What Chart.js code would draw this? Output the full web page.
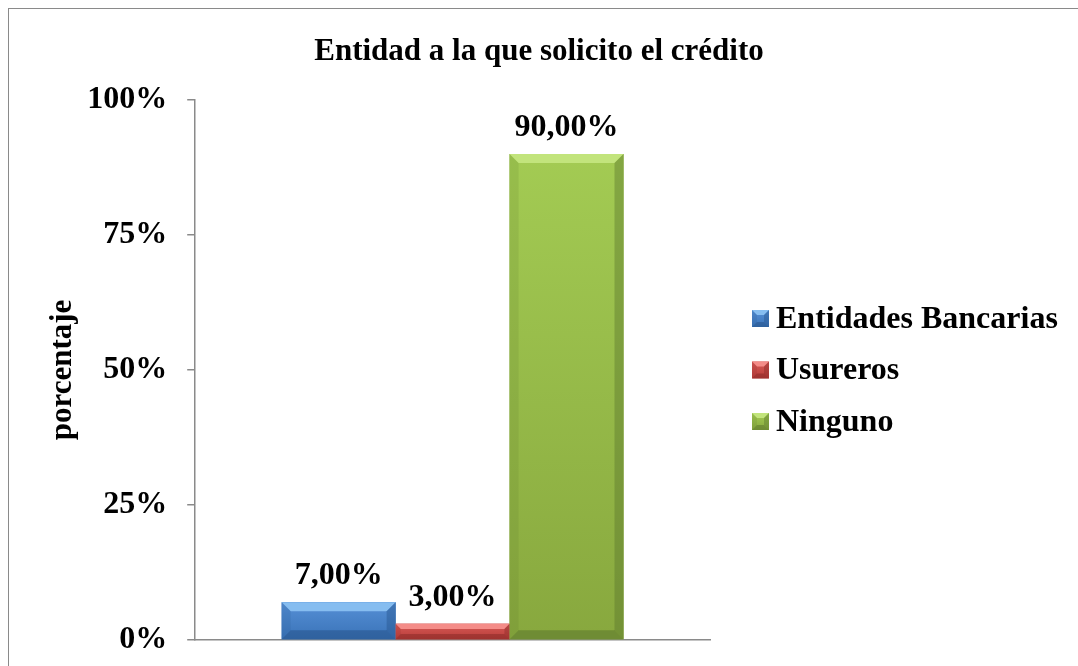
<!DOCTYPE html>
<html>
<head>
<meta charset="utf-8">
<script src="https://cdn.jsdelivr.net/npm/chart.js@4"></script>
<style>
  html, body { margin: 0; padding: 0; background: #fff; }
  #wrap { position: relative; width: 1078px; height: 666px; overflow: hidden; }
  #frame { position: absolute; left: 8px; top: 8px; width: 1200px; height: 800px; border: 1px solid #8a8a8a; }
  canvas { position: absolute; left: 0; top: 0; }
</style>
</head>
<body>
<div id="wrap">
  <div id="frame"></div>
  <canvas id="chart" width="1078" height="666"></canvas>
</div>
<script>
// data
const chartTitle = 'Entidad a la que solicito el crédito';
const categories = [''];
const seriesNames = ['Entidades Bancarias', 'Usureros', 'Ninguno'];
const seriesValues = [[7], [3], [90]];
const yTicks = [0, 25, 50, 75, 100];

// colours for each series: base, light top, bevel highlight, dark edge
const seriesColors = [
    { base: '#3a73b8', top: '#5690d6', light: '#86bdf0', dark: '#234f86' },
    { base: '#b83d3a', top: '#d65955', light: '#f48c88', dark: '#852725' },
    { base: '#88a83e', top: '#a3cb53', light: '#c2e47c', dark: '#56702a' }
];

const serif = '"Liberation Serif", "Times New Roman", serif';
const fmt = v => v.toFixed(2).replace('.', ',') + '%';

function bevelRect(ctx, c, left, top, right, bottom, b) {
    const h = bottom - top;
    const g = ctx.createLinearGradient(0, top, 0, bottom);
    g.addColorStop(0, c.top);
    g.addColorStop(1, c.base);
    ctx.fillStyle = g;
    ctx.fillRect(left, top, right - left, h);
    // top bevel
    ctx.fillStyle = c.light;
    ctx.beginPath();
    ctx.moveTo(left, top);
    ctx.lineTo(right, top);
    ctx.lineTo(right - b, top + b);
    ctx.lineTo(left + b, top + b);
    ctx.closePath();
    ctx.fill();
    ctx.fillStyle = c.dark;
    // right side
    ctx.globalAlpha = 0.4;
    ctx.beginPath();
    ctx.moveTo(right, top);
    ctx.lineTo(right, bottom);
    ctx.lineTo(right - b, bottom - b);
    ctx.lineTo(right - b, top + b);
    ctx.closePath();
    ctx.fill();
    // left side
    ctx.globalAlpha = 0.15;
    ctx.beginPath();
    ctx.moveTo(left, top);
    ctx.lineTo(left, bottom);
    ctx.lineTo(left + b, bottom - b);
    ctx.lineTo(left + b, top + b);
    ctx.closePath();
    ctx.fill();
    // bottom
    ctx.globalAlpha = 0.5;
    ctx.beginPath();
    ctx.moveTo(left, bottom);
    ctx.lineTo(right, bottom);
    ctx.lineTo(right - b, bottom - b);
    ctx.lineTo(left + b, bottom - b);
    ctx.closePath();
    ctx.fill();
    ctx.globalAlpha = 1;
}

// bevelled bar look, drawn over each bar element
const bevelPlugin = {
    id: 'bevel',
    afterDatasetsDraw(chart) {
        const ctx = chart.ctx;
        chart.data.datasets.forEach((ds, i) => {
            chart.getDatasetMeta(i).data.forEach(bar => {
                const h = bar.base - bar.y;
                ctx.save();
                bevelRect(ctx, seriesColors[i], bar.x - bar.width / 2, bar.y,
                    bar.x + bar.width / 2, bar.base, Math.min(9, h / 3));
                ctx.restore();
            });
        });
    }
};

// value labels above the bars
const valueLabels = {
    id: 'valueLabels',
    afterDatasetsDraw(chart) {
        const ctx = chart.ctx;
        ctx.save();
        ctx.font = 'bold 32px ' + serif;
        ctx.fillStyle = '#000';
        ctx.textAlign = 'center';
        ctx.textBaseline = 'alphabetic';
        chart.data.datasets.forEach((ds, i) => {
            chart.getDatasetMeta(i).data.forEach((bar, j) => {
                ctx.fillText(fmt(ds.data[j]), bar.x, bar.y - 18);
            });
        });
        ctx.restore();
    }
};

// title centred on the whole canvas, legend at the right with bevelled boxes
const sideLegend = {
    id: 'sideLegend',
    afterDraw(chart) {
        const ctx = chart.ctx;
        const area = chart.chartArea;
        ctx.save();
        ctx.font = 'bold 31px ' + serif;
        ctx.fillStyle = '#000';
        ctx.textAlign = 'center';
        ctx.textBaseline = 'middle';
        ctx.fillText(chartTitle, chart.width / 2, 52);

        const midY = (area.top + area.bottom) / 2;
        const boxX = area.right + 42;
        const step = 51.5;
        ctx.font = 'bold 32px ' + serif;
        ctx.textAlign = 'left';
        chart.data.datasets.forEach((ds, i) => {
            const cy = midY + (i - (chart.data.datasets.length - 1) / 2) * step;
            bevelRect(ctx, seriesColors[i], boxX, cy - 8.5, boxX + 17, cy + 8.5, 5);
            ctx.fillStyle = '#000';
            ctx.fillText(ds.label, boxX + 24, cy + 1);
        });
        ctx.restore();
    }
};

new Chart(document.getElementById('chart').getContext('2d'), {
    type: 'bar',
    data: {
        labels: categories,
        datasets: seriesNames.map((name, i) => ({
            label: name,
            data: seriesValues[i],
            backgroundColor: seriesColors[i].base,
            borderWidth: 0,
            barPercentage: 1,
            categoryPercentage: 0.664
        }))
    },
    options: {
        responsive: false,
        animation: false,
        layout: { padding: { left: 8, right: 368, top: 100, bottom: 26 } },
        plugins: {
            title: { display: false },
            legend: { display: false },
            tooltip: { enabled: false }
        },
        scales: {
            x: {
                ticks: { display: false },
                grid: { display: false, drawTicks: false },
                border: { color: '#8a8a8a', width: 1.5 }
            },
            y: {
                min: 0,
                max: 100,
                afterBuildTicks: axis => { axis.ticks = yTicks.map(v => ({ value: v })); },
                // the tick padding is horizontal only here; keep it out of the vertical layout
                afterFit: axis => { axis.paddingTop = 0; axis.paddingBottom = 0; },
                ticks: {
                    color: '#000',
                    font: { family: serif, size: 32, weight: 'bold' },
                    padding: 20,
                    callback: v => v + '%'
                },
                grid: { drawOnChartArea: false, tickLength: 8, color: '#8a8a8a', lineWidth: 1.5 },
                border: { color: '#8a8a8a', width: 1.5 },
                title: {
                    display: true,
                    text: 'porcentaje',
                    color: '#000',
                    font: { family: serif, size: 31, weight: 'bold' },
                    padding: { top: 36, bottom: -14 }
                }
            }
        }
    },
    plugins: [bevelPlugin, valueLabels, sideLegend]
});
</script>
</body>
</html>
